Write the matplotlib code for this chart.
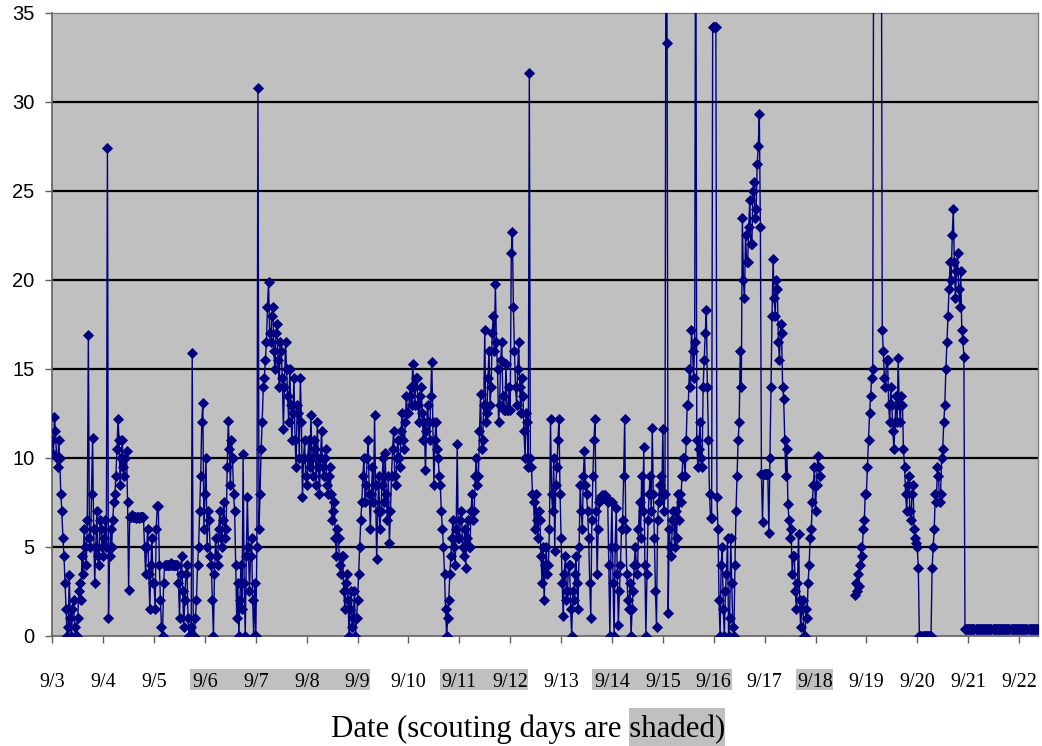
import matplotlib

matplotlib.use("Agg")
import matplotlib.pyplot as plt
import numpy as np
from matplotlib.patches import Rectangle
from matplotlib.transforms import Bbox

nan = np.nan

# half-hourly readings, one list per day starting at midnight (48 per full day);
# 45 marks readings above the 35 ceiling, where the line runs off the top
sep03 = [11.0, 10.2, 12.3, 11.5, 10.0, 9.5, 11.0, 10.0, 8.0, 7.0, 5.5, 4.5,
         3.0, 1.5, 0.0, 0.5, 3.4, 1.0, 0.0, 1.5, 2.0, 0.5, 0.0, 0.0,
         1.0, 2.5, 3.0, 2.0, 4.5, 3.5, 6.0, 5.0, 4.0, 6.5, 16.9, 5.5,
         5.0, 8.0, 11.1, 6.0, 3.0, 5.0, 7.0, 4.5, 4.0, 6.5, 6.0, 5.0]
sep04 = [4.5, 5.5, 6.5, 5.0, 27.4, 1.0, 4.5, 6.0, 5.0, 6.5, 7.5, 8.0,
         9.0, 10.5, 12.2, 11.0, 8.5, 10.0, 11.0, 9.5, 9.0, 10.0, 10.4, 7.5,
         2.6, 6.7, 6.7, 6.8, 6.7, 6.7, 6.7, 6.6, 6.7, 6.7, 6.6, 6.7,
         6.7, 6.7, 6.7, 5.0, 3.5, 5.0, 6.0, 3.5, 1.5, 4.0, 5.5, 3.0]
sep05 = [3.0, 1.5, 6.0, 7.3, 7.3, 4.0, 2.0, 0.5, 0.0, 3.0, 4.0, 4.0,
         4.0, 4.0, 4.0, 4.0, 4.1, 4.0, 4.0, 4.0, 4.0, 4.0, 4.0, 3.0,
         1.0, 3.5, 4.5, 2.5, 0.5, 2.0, 3.5, 4.0, 1.0, 0.0, 0.0, 0.5,
         15.9, 0.0, 0.0, 1.0, 2.0, 4.0, 5.0, 7.0, 9.0, 12.0, 13.1, 6.0]
sep06 = [8.0, 10.0, 5.0, 7.0, 6.5, 4.5, 4.0, 2.0, 0.0, 3.5, 5.5, 4.5,
         4.0, 6.0, 7.0, 5.5, 5.0, 6.5, 7.5, 5.5, 6.0, 9.5, 12.1, 10.5,
         8.5, 11.0, 10.0, 8.0, 7.0, 4.0, 1.0, 3.0, 0.0, 2.0, 4.0, 1.5,
         10.2, 3.0, 0.0, 4.5, 7.8, 5.0, 2.5, 4.5, 5.5, 2.0, 0.0, 3.0]
sep07 = [0.0, 5.0, 30.8, 6.0, 8.0, 10.5, 12.0, 14.0, 14.5, 15.5, 16.5, 18.5,
         19.9, 17.0, 16.5, 18.0, 18.5, 16.0, 15.0, 17.0, 17.5, 15.5, 14.0, 16.5,
         16.0, 14.5, 11.6, 14.0, 16.5, 15.0, 13.5, 12.0, 15.0, 13.0, 11.0, 12.5,
         14.5, 11.0, 9.5, 13.0, 12.5, 10.0, 14.5, 12.0, 7.8, 10.0, 11.0, 9.0]
sep08 = [8.5, 10.0, 11.0, 9.5, 12.4, 10.0, 9.0, 11.0, 10.5, 8.5, 12.0, 9.5,
         8.0, 10.0, 11.5, 9.5, 9.0, 10.0, 10.5, 8.5, 8.0, 9.0, 9.5, 8.0,
         6.5, 7.0, 7.5, 5.5, 4.5, 6.0, 5.5, 4.0, 3.5, 4.5, 4.5, 2.5,
         1.5, 3.0, 3.5, 2.0, 0.0, 1.5, 2.5, 0.5, 1.0, 2.5, 0.0, 1.0]
sep09 = [2.0, 3.5, 5.0, 6.5, 7.5, 9.0, 10.0, 7.5, 8.5, 10.0, 11.0, 8.0,
         6.0, 8.0, 9.5, 7.5, 12.4, 8.5, 4.3, 7.0, 9.0, 6.0, 7.0, 8.5,
         10.0, 7.5, 10.3, 8.0, 6.5, 9.0, 5.2, 7.0, 9.0, 10.5, 11.5, 9.0,
         8.5, 10.0, 11.0, 10.0, 9.5, 11.5, 12.5, 11.0, 10.5, 12.0, 13.5, 12.5]
sep10 = [12.5, 13.5, 14.0, 13.0, 15.3, 14.0, 13.0, 14.5, 14.5, 13.0, 12.0, 13.5,
         14.0, 12.5, 11.0, 12.0, 9.3, 11.5, 13.0, 12.0, 11.0, 13.5, 15.4, 12.0,
         8.5, 11.0, 12.0, 10.5, 10.0, 9.0, 8.5, 7.0, 6.0, 5.0, 3.5, 1.5,
         0.0, 1.0, 2.0, 3.5, 4.5, 5.5, 6.5, 5.0, 4.0, 6.0, 10.8, 5.5]
sep11 = [5.5, 6.5, 7.0, 5.0, 4.5, 6.0, 3.8, 5.5, 6.5, 5.0, 5.0, 7.0,
         8.0, 6.5, 7.0, 9.0, 10.0, 8.5, 9.0, 11.5, 13.6, 10.5, 11.0, 13.0,
         17.2, 12.0, 12.5, 14.5, 16.0, 13.0, 14.0, 17.0, 18.0, 16.0, 19.8, 16.5,
         15.0, 12.0, 13.0, 15.5, 16.5, 13.5, 12.7, 12.7, 15.3, 12.7, 12.7, 14.0]
sep12 = [12.7, 21.5, 22.7, 18.5, 16.0, 14.0, 13.0, 15.0, 16.5, 14.0, 12.5, 14.5,
         13.5, 11.5, 10.0, 12.5, 12.0, 9.5, 31.6, 10.0, 9.5, 8.0, 7.5, 6.0,
         8.0, 6.5, 5.5, 7.0, 6.5, 4.5, 3.0, 5.0, 2.0, 4.0, 5.0, 3.5,
         4.0, 6.0, 12.2, 8.0, 7.0, 10.0, 4.8, 8.5, 9.5, 11.0, 12.2, 8.0]
sep13 = [5.5, 3.0, 1.1, 3.5, 4.5, 2.0, 2.5, 4.0, 4.0, 1.5, 0.0, 2.5,
         2.0, 3.5, 4.5, 3.0, 1.5, 5.0, 8.5, 7.0, 6.0, 9.0, 10.4, 8.5,
         8.0, 7.0, 5.5, 3.0, 1.0, 6.5, 9.0, 11.0, 12.2, 7.0, 3.5, 6.0,
         7.5, 7.7, 7.8, 7.9, 7.9, 7.9, 7.8, 7.7, 7.5, 4.0, 0.0, 5.0]
sep14 = [7.5, 3.0, 0.0, 5.0, 7.2, 3.5, 0.6, 2.5, 4.0, 6.0, 6.5, 9.0,
         12.2, 6.0, 3.5, 2.0, 1.5, 3.0, 0.0, 1.5, 2.5, 4.0, 5.0, 4.0,
         3.5, 6.0, 7.5, 5.5, 9.0, 7.0, 10.6, 4.0, 0.0, 3.5, 6.5, 8.0,
         9.0, 7.0, 11.7, 8.0, 5.5, 2.5, 0.5, 6.5, 7.5, 8.5, 9.0, 8.0]
sep15 = [11.6, 7.0, 8.0, 45.0, 33.3, 1.3, 6.0, 5.0, 4.5, 6.5, 7.0, 5.0,
         7.0, 5.5, 8.0, 6.5, 8.0, 7.5, 9.0, 10.0, 10.0, 9.0, 11.0, 13.0,
         13.0, 15.0, 14.0, 17.2, 16.0, 14.5, 16.5, 45.0, 11.0, 9.5, 10.5, 12.0,
         10.0, 9.5, 14.0, 15.5, 17.0, 18.3, 14.0, 11.0, 8.0, 6.6, 6.6, 34.2]
sep16 = [34.2, 34.2, 34.2, 7.8, 6.0, 2.0, 0.0, 4.0, 5.0, 1.5, 0.0, 2.5,
         3.5, 5.5, 0.0, 1.0, 5.5, 3.0, 0.5, 0.0, 4.0, 7.0, 9.0, 11.0,
         12.0, 16.0, 14.0, 23.5, 20.0, 19.0, 22.5, 21.0, 21.0, 23.0, 24.5, 22.0,
         22.0, 25.0, 25.5, 23.5, 24.0, 26.5, 27.5, 29.3, 23.0, 9.1, 6.4, 9.1]
sep17 = [9.1, 9.1, 9.1, 9.1, 5.8, 10.0, 14.0, 18.0, 21.2, 19.0, 18.0, 20.0,
         19.5, 16.5, 15.5, 17.5, 17.0, 14.0, 13.3, 11.0, 9.0, 10.5, 7.4, 6.5,
         5.5, 6.0, 3.5, 4.5, 4.5, 2.5, 1.5, 3.0, 5.75, 2.0, 0.5, 1.5,
         2.0, 0.0, 0.0, 1.5, 1.0, 3.0, 4.0, 5.5, 6.0, 7.5, 8.5, 9.5]
sep18 = [7.0, 8.5, 10.1, 9.5, 9.0, nan, nan, nan, nan, nan, nan, nan,
         nan, nan, nan, nan, nan, nan, nan, nan, nan, nan, nan, nan,
         nan, nan, nan, nan, nan, nan, nan, nan, nan, nan, nan, nan,
         nan, 2.3, 3.0, 2.5, 3.5, 2.8, 4.0, 5.0, 4.5, 6.0, 6.5, 8.0]
sep19 = [8.0, 9.5, 11.0, 12.5, 13.5, 14.5, 15.0, 45.0, 45.0, 45.0, 45.0, 45.0,
         45.0, 45.0, 45.0, 17.2, 16.0, 14.5, 14.0, 15.5, 15.5, 13.0, 12.0, 14.0,
         13.0, 11.5, 10.5, 12.0, 13.5, 12.0, 15.6, 13.0, 12.0, 13.5, 13.0, 10.5,
         9.5, 8.0, 7.0, 8.5, 9.0, 7.0, 6.5, 8.0, 8.5, 6.0, 5.5, 5.2]
sep20 = [5.0, 3.8, 0.0, 0.0, 0.0, 0.0, 0.0, 0.0, 0.0, 0.0, 0.0, 0.0,
         0.0, 0.0, 3.8, 5.0, 6.0, 8.0, 7.5, 9.5, 9.0, 7.5, 8.0, 10.0,
         10.5, 12.0, 13.0, 15.0, 16.5, 18.0, 19.5, 21.0, 20.0, 22.5, 24.0, 21.0,
         19.0, 20.5, 21.5, 19.5, 18.5, 20.5, 17.2, 16.6, 15.7, 0.4, 0.4, 0.4]
sep21 = [0.4, 0.4, 0.4, 0.4, 0.4, 0.4, 0.4, 0.4, 0.4, 0.4, 0.4, 0.4,
         0.4, 0.4, 0.4, 0.4, 0.4, 0.4, 0.4, 0.4, 0.4, 0.4, 0.4, 0.4,
         0.4, 0.4, 0.4, 0.4, 0.4, 0.4, 0.4, 0.4, 0.4, 0.4, 0.4, 0.4,
         0.4, 0.4, 0.4, 0.4, 0.4, 0.4, 0.4, 0.4, 0.4, 0.4, 0.4, 0.4]
sep22 = [0.4, 0.4, 0.4, 0.4, 0.4, 0.4, 0.4, 0.4, 0.4, 0.4,
         0.4, 0.4, 0.4, 0.4, 0.4, 0.4, 0.4, 0.4, 0.4]

dates = ["9/3", "9/4", "9/5", "9/6", "9/7", "9/8", "9/9", "9/10", "9/11", "9/12",
         "9/13", "9/14", "9/15", "9/16", "9/17", "9/18", "9/19", "9/20", "9/21", "9/22"]
scouting = ["9/6", "9/7", "9/8", "9/9", "9/11", "9/12", "9/14", "9/15", "9/16", "9/18"]

SERIF = "Liberation Serif"
SANS = "Liberation Sans"
SHADE = "#C0C0C0"
NAVY = "#000080"
PER_DAY = 48


def main():
    days = [sep03, sep04, sep05, sep06, sep07, sep08, sep09, sep10, sep11, sep12,
            sep13, sep14, sep15, sep16, sep17, sep18, sep19, sep20, sep21, sep22]
    vals = np.concatenate([np.asarray(d, dtype=float) for d in days])
    t = np.arange(len(vals)) / PER_DAY  # days since 9/3 00:00

    fig = plt.figure(figsize=(10.42, 7.46), dpi=100)
    ax = fig.add_axes([0.0502, 0.1475, 0.9463, 0.8351])
    ax.set_facecolor(SHADE)

    for yv in range(5, 35, 5):
        ax.axhline(yv, color="black", lw=1.6, zorder=1)

    ax.plot(t, vals, color=NAVY, lw=1.0, marker="D", ms=5.2,
            mfc=NAVY, mec=NAVY, mew=0.6, zorder=3)

    ax.set_xlim(0, t[-1] + 0.005)
    ax.set_ylim(0, 35)
    ax.set_yticks(range(0, 36, 5))
    ax.set_xticks(range(len(dates)))
    ax.set_xticklabels(dates)
    for lab in ax.get_yticklabels():
        lab.set_family(SANS)
        lab.set_fontsize(14.5)
    for lab in ax.get_xticklabels():
        lab.set_family(SERIF)
        lab.set_fontsize(14.5)
    ax.tick_params(axis="y", direction="out", length=5, width=1, color="#606060", pad=8)
    ax.tick_params(axis="x", direction="out", length=5, width=1, color="#606060", pad=22)
    for side in ["left", "bottom"]:
        ax.spines[side].set_color("#606060")
        ax.spines[side].set_linewidth(1.2)
    for side in ["top", "right"]:
        ax.spines[side].set_color("#808080")
        ax.spines[side].set_linewidth(1.0)

    xlabel = "Date (scouting days are shaded)"
    txt = fig.text(0.5072, 0.0125, xlabel, ha="center", va="baseline",
                   family=SERIF, fontsize=22.2)

    fig.canvas.draw()
    renderer = fig.canvas.get_renderer()
    inv = fig.transFigure.inverted()

    # grey highlight behind runs of scouting-day labels
    runs, run = [], []
    for lab, d in zip(ax.get_xticklabels(), dates):
        if d in scouting:
            run.append(lab.get_window_extent(renderer))
        elif run:
            runs.append(run)
            run = []
    if run:
        runs.append(run)
    for run in runs:
        bb = Bbox.union(run)
        box = Bbox.from_extents(bb.x0 - 2, bb.y0 + 2, bb.x1, bb.y1 + 4).transformed(inv)
        fig.add_artist(Rectangle((box.x0, box.y0), box.width, box.height,
                                 facecolor=SHADE, edgecolor="none", zorder=-1))

    # highlight the word "shaded" (the box runs under the closing bracket too)
    def width_of(s):
        tmp = fig.text(0, 0, s, family=SERIF, fontsize=22.2)
        w = tmp.get_window_extent(renderer).width
        tmp.remove()
        return w

    full = txt.get_window_extent(renderer)
    left = full.x0 + width_of("Date (scouting days are shaded") - width_of("shaded")
    right = full.x1 - 1
    hb = Bbox.from_extents(left - 1, 0, right, full.y1 + 6).transformed(inv)
    fig.add_artist(Rectangle((hb.x0, hb.y0), hb.width, hb.height,
                             facecolor=SHADE, edgecolor="none", zorder=-1))

    fig.savefig("out.png", dpi=100)


if __name__ == "__main__":
    main()
